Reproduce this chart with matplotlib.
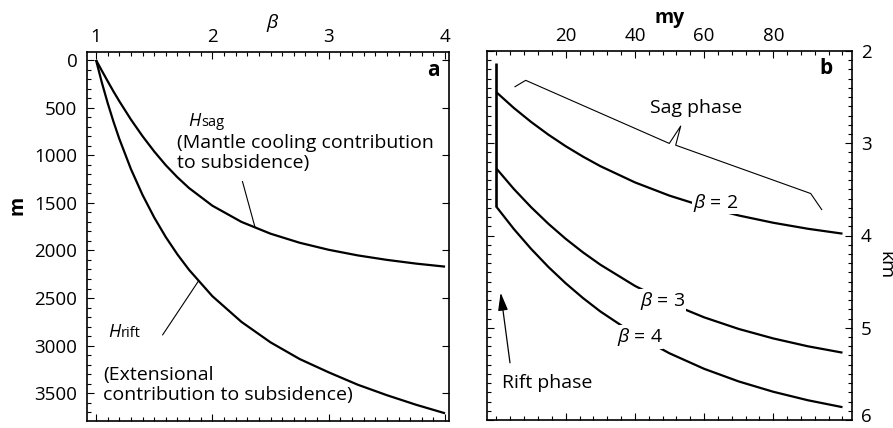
import matplotlib
matplotlib.use("Agg")
import matplotlib.pyplot as plt
from matplotlib.ticker import MultipleLocator, FixedLocator, FixedFormatter
from matplotlib.offsetbox import TextArea, HPacker, AnnotationBbox

plt.rcParams['font.family'] = ['Open Sans', 'DejaVu Sans']
plt.rcParams['mathtext.fontset'] = 'custom'
plt.rcParams['mathtext.it'] = 'Open Sans:italic'
plt.rcParams['mathtext.rm'] = 'Open Sans'

# ---------------- data (panel a) ----------------
beta = [1.0, 1.05, 1.1, 1.15, 1.2, 1.3, 1.4, 1.5, 1.6, 1.7, 1.8, 2.0,
        2.25, 2.5, 2.75, 3.0, 3.25, 3.5, 3.75, 4.0]
H_rift = [0, 236, 451, 647, 827, 1145, 1417, 1653, 1860, 2042, 2204, 2480,
          2750, 2965, 3140, 3280, 3410, 3520, 3620, 3710]
H_sag = [0, 112, 222, 330, 432, 625, 800, 960, 1105, 1232, 1345, 1530,
         1700, 1824, 1919, 1993, 2052, 2099, 2138, 2170]
a_xticks = [1, 2, 3, 4]
a_yticks = [0, 500, 1000, 1500, 2000, 2500, 3000, 3500]

# ---------------- data (panel b) ----------------
time_my = [0, 5, 10, 15, 20, 25, 30, 40, 50, 60, 70, 80, 90, 100]
depth_b2 = [2.448, 2.617, 2.769, 2.907, 3.032, 3.145, 3.248, 3.424, 3.568,
            3.686, 3.783, 3.862, 3.927, 3.980]
depth_b3 = [3.275, 3.495, 3.693, 3.873, 4.036, 4.183, 4.316, 4.546, 4.733,
            4.887, 5.013, 5.116, 5.201, 5.270]
depth_b4 = [3.690, 3.929, 4.145, 4.341, 4.518, 4.678, 4.823, 5.073, 5.277,
            5.445, 5.582, 5.694, 5.786, 5.861]
rift_phase_time = [0, 0]
rift_phase_km = [2.13, 3.69]
b_xticks = [20, 40, 60, 80]
b_yticks = [2, 3, 4, 5, 6]
b_ylabels = ['2', '3', '4', '5', '6']

# Sag-phase brace outline (time, km)
brace_t = [5.35, 8.44, 49.94, 53.24, 51.79, 90.81, 93.99]
brace_km = [2.387, 2.318, 3.002, 2.814, 3.021, 3.545, 3.719]

# ---------------- figure ----------------
W, H = 893, 428
fig = plt.figure(figsize=(W / 100, H / 100), dpi=100)


def box(l, t, r, b):
    return [l / W, 1 - b / H, (r - l) / W, (b - t) / H]


ax1 = fig.add_axes(box(87, 52, 449, 421))
ax2 = fig.add_axes(box(486.7, 51, 851.7, 420))

TICK_FS = 13.5
ANN_FS = 14
LW = 1.6

for ax in (ax1, ax2):
    for s in ax.spines.values():
        s.set_linewidth(1.2)
    ax.tick_params(which='both', direction='in', width=0.8, colors='black')
    ax.tick_params(which='major', length=5)
    ax.tick_params(which='minor', length=3)

# ---- panel a ----
ax1.plot(beta, H_rift, color='black', lw=LW, solid_capstyle='butt')
ax1.plot(beta, H_sag, color='black', lw=LW, solid_capstyle='butt')
ax1.set_xlim(0.9226, 4.034)
ax1.set_ylim(3791, -84)
ax1.xaxis.set_major_locator(FixedLocator(a_xticks))
ax1.xaxis.set_minor_locator(MultipleLocator(0.1))
ax1.yaxis.set_major_locator(FixedLocator(a_yticks))
ax1.yaxis.set_minor_locator(MultipleLocator(100))
ax1.tick_params(which='both', top=True, bottom=True, left=True, right=False,
                labeltop=True, labelbottom=False, labelleft=True, labelright=False)
ax1.tick_params(which='major', right=True)
ax1.tick_params(axis='x', pad=4.5, labelsize=TICK_FS)
ax1.tick_params(axis='y', pad=7, labelsize=TICK_FS)

# annotations panel a
ax1.plot([2.259, 2.365], [1277, 1749], color='black', lw=0.8)
ax1.plot([1.573, 1.878], [2886, 2326], color='black', lw=0.8)


def h_label(ax, x, y, sub):
    hp = HPacker(children=[TextArea("H", textprops=dict(fontsize=13, style='italic')),
                           TextArea(sub, textprops=dict(fontsize=10.5))],
                 align='baseline', pad=0, sep=0.5)
    ab = AnnotationBbox(hp, (x, y), xycoords='data', box_alignment=(0, 0),
                        frameon=False, pad=0)
    ax.add_artist(ab)


h_label(ax1, 1.79, 735, "sag")
h_label(ax1, 1.103, 2950, "rift")
ax1.text(1.695, 776, "(Mantle cooling contribution\nto subsidence)", fontsize=ANN_FS,
         ha='left', va='top', linespacing=1.15)
ax1.text(1.060, 3211, "(Extensional\ncontribution to subsidence)", fontsize=ANN_FS,
         ha='left', va='top', linespacing=1.15)

# ---- panel b ----
ax2.plot(rift_phase_time, rift_phase_km, color='black', lw=LW + 0.3, solid_capstyle='butt')
ax2.plot(time_my, depth_b2, color='black', lw=LW, solid_capstyle='butt')
ax2.plot(time_my, depth_b3, color='black', lw=LW, solid_capstyle='butt')
ax2.plot(time_my, depth_b4, color='black', lw=LW, solid_capstyle='butt')
ax2.set_xlim(-2.83, 102.66)
ax2.set_ylim(6, 2)
ax2.xaxis.set_major_locator(FixedLocator(b_xticks))
ax2.xaxis.set_minor_locator(MultipleLocator(4))
ax2.yaxis.set_major_locator(FixedLocator(b_yticks))
# last label (6) is drawn separately, nudged up to stay inside the figure
ax2.yaxis.set_major_formatter(FixedFormatter(b_ylabels[:-1] + ['']))
ax2.yaxis.set_minor_locator(MultipleLocator(0.1))
ax2.tick_params(which='both', top=True, bottom=True, left=True, right=True,
                labeltop=True, labelbottom=False, labelleft=False, labelright=True)
ax2.tick_params(axis='x', pad=4.5, labelsize=TICK_FS)
ax2.tick_params(axis='y', pad=6.5, labelsize=TICK_FS)
ax2.annotate(b_ylabels[-1], xy=(1, b_yticks[-1]), xycoords=('axes fraction', 'data'),
             xytext=(6.5, 2.2), textcoords='offset points', ha='left', va='center',
             fontsize=TICK_FS, annotation_clip=False)

ax2.plot(brace_t, brace_km, color='black', lw=0.8)
ax2.text(44.4, 2.524, "Sag phase", fontsize=ANN_FS, ha='left', va='top')
ax2.text(1.5, 5.499, "Rift phase", fontsize=ANN_FS, ha='left', va='top')
ax2.annotate("", xy=(1.2, 4.62), xytext=(3.9, 5.38),
             arrowprops=dict(arrowstyle='-|>,head_length=0.9,head_width=0.25',
                             lw=0.9, color='black', shrinkA=0, shrinkB=0,
                             mutation_scale=12))

bb = dict(facecolor='white', edgecolor='none', pad=0.5)
ax2.text(63.4, 3.643, r"$\beta$ = 2", fontsize=ANN_FS, ha='center', va='center', bbox=bb)
ax2.text(48.0, 4.707, r"$\beta$ = 3", fontsize=ANN_FS, ha='center', va='center', bbox=bb)
ax2.text(41.4, 5.103, r"$\beta$ = 4", fontsize=ANN_FS, ha='center', va='center', bbox=bb)

# ---- axis labels / panel letters ----
fig.text(273 / W, 1 - 28 / H, r"$\beta$", fontsize=ANN_FS, ha='center', va='baseline')
fig.text(670 / W, 1 - 22.7 / H, "my", fontsize=ANN_FS, fontweight='bold',
         ha='center', va='baseline')
fig.text(18 / W, 1 - 205 / H, "m", fontsize=ANN_FS, fontweight='bold',
         rotation=90, ha='center', va='center')
fig.text(885 / W, 1 - 265 / H, "km", fontsize=ANN_FS, rotation=270,
         ha='center', va='center')
fig.text(433.7 / W, 1 - 70.5 / H, "a", fontsize=15, fontweight='bold',
         ha='center', va='center')
fig.text(826 / W, 1 - 68.5 / H, "b", fontsize=15, fontweight='bold',
         ha='center', va='center')

fig.savefig("out.png", dpi=100)
